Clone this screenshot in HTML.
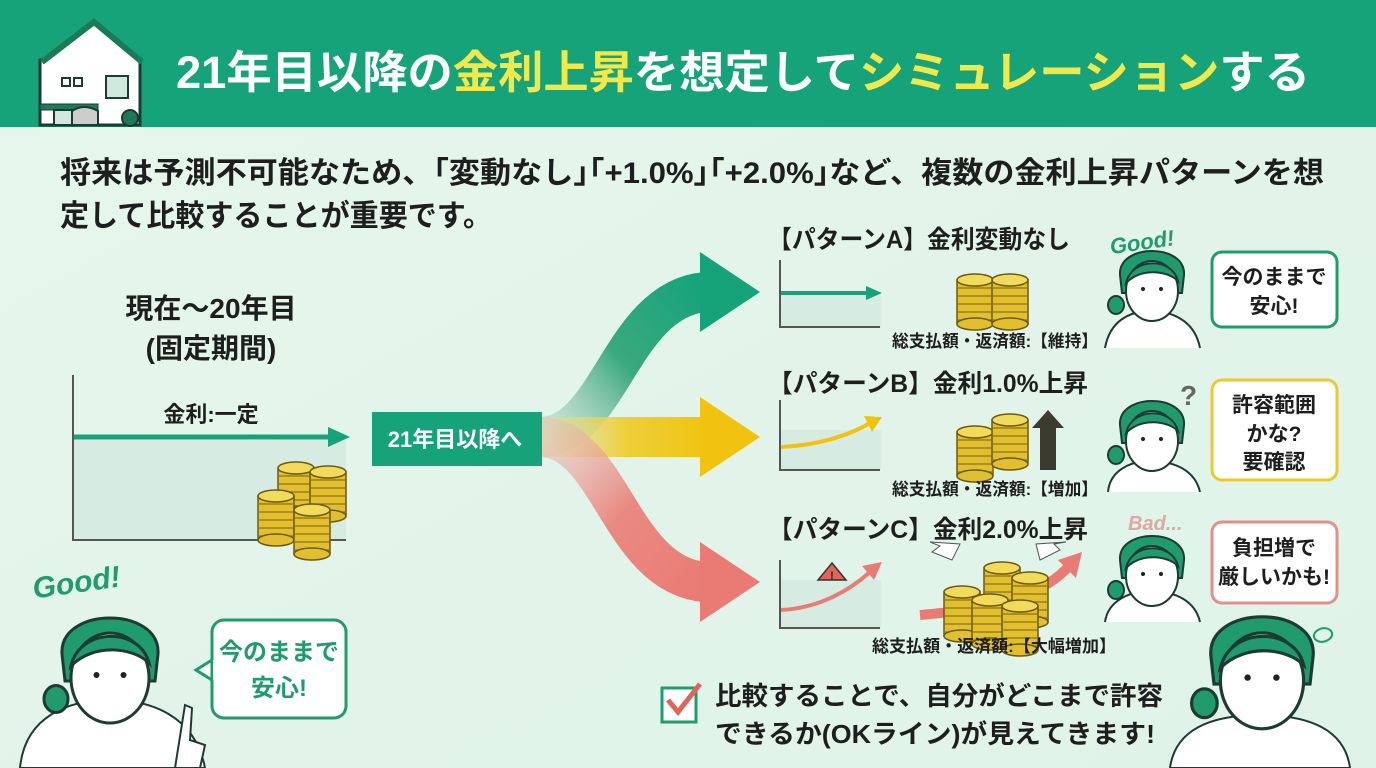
<!DOCTYPE html>
<html><head><meta charset="utf-8"><style>
body{margin:0;width:1376px;height:768px;overflow:hidden;background:#e4f5ea;font-family:"Liberation Sans","Noto Sans CJK JP",sans-serif;}
svg{display:block}
text{font-family:"Liberation Sans","Noto Sans CJK JP",sans-serif;font-weight:bold;}
</style></head><body>
<svg width="1376" height="768" viewBox="0 0 1376 768" xmlns="http://www.w3.org/2000/svg">
<defs>
<linearGradient id="bg" x1="0" y1="0" x2="1" y2="1"><stop offset="0" stop-color="#e6f6ec"/><stop offset="1" stop-color="#dff3e8"/></linearGradient>
<linearGradient id="gA" gradientUnits="userSpaceOnUse" x1="540" y1="437" x2="710" y2="292"><stop offset="0" stop-color="#b9d6c4" stop-opacity="0.4"/><stop offset="0.5" stop-color="#3aa97f"/><stop offset="1" stop-color="#16a37a"/></linearGradient>
<linearGradient id="gB" gradientUnits="userSpaceOnUse" x1="540" y1="0" x2="710" y2="0"><stop offset="0" stop-color="#e7e0a0" stop-opacity="0.4"/><stop offset="0.5" stop-color="#edcf3a"/><stop offset="1" stop-color="#f1c30f"/></linearGradient>
<linearGradient id="gC" gradientUnits="userSpaceOnUse" x1="540" y1="437" x2="710" y2="582"><stop offset="0" stop-color="#eab8b0" stop-opacity="0.4"/><stop offset="0.5" stop-color="#e98a82"/><stop offset="1" stop-color="#ea7b74"/></linearGradient>
<g id="stack">
<rect x="-18" y="0" width="36" height="44" fill="#e2bf2f" stroke="#6b5a10" stroke-width="1.5"/>
<path d="M-18 8h36M-18 16h36M-18 24h36M-18 32h36M-18 40h36" stroke="#8a7414" stroke-width="1.2"/>
<ellipse cx="0" cy="0" rx="18" ry="6" fill="#f2da5a" stroke="#6b5a10" stroke-width="1.5"/>
<ellipse cx="0" cy="44" rx="18" ry="6" fill="#e2bf2f" stroke="#6b5a10" stroke-width="1.5"/>
</g>
<g id="face">
<path d="M-32 -8 C-34 -40 34 -40 32 -8 L30 10 L-30 10 Z" fill="#1f9b6e" stroke="#1d3b33" stroke-width="2"/>
<ellipse cx="0" cy="8" rx="26" ry="30" fill="#fff" stroke="#1d3b33" stroke-width="2"/>
<path d="M-26 0 C-20 -26 20 -26 26 -2 C16 -12 -10 -16 -26 0Z" fill="#1f9b6e" stroke="#1d3b33" stroke-width="2"/>
<circle cx="-9" cy="6" r="2" fill="#222"/><circle cx="9" cy="6" r="2" fill="#222"/>
<ellipse cx="-36" cy="22" rx="8" ry="9" fill="#1f9b6e" stroke="#1d3b33" stroke-width="2"/>
</g>
</defs>
<rect width="1376" height="768" fill="url(#bg)"/>
<!-- header -->
<rect width="1376" height="127" fill="#16a37a"/>
<g stroke="#1d3b33" stroke-width="3">
<path d="M46 60 L94 22 L140 60 L140 125 L40 125 L40 60 Z" fill="#fff"/>
<path d="M42 62 L94 22 L142 62" fill="none" stroke="#1b7a58" stroke-width="6"/>
<rect x="62" y="78" width="8" height="8" fill="#fff" stroke-width="2"/><rect x="74" y="78" width="8" height="8" fill="#fff" stroke-width="2"/>
<rect x="106" y="76" width="22" height="22" fill="#cfe9df" stroke-width="2"/>
<rect x="40" y="104" width="58" height="6" fill="#1b7a58" stroke-width="1"/>
<rect x="54" y="110" width="18" height="15" fill="#cfe9df" stroke-width="2"/>
<path d="M72 125 v-14 q12 -8 26 0 v14z" fill="#ccc" stroke-width="2"/>
<circle cx="130" cy="118" r="8" fill="#1b7a58" stroke-width="2"/>
</g>
<text x="176" y="88" font-size="45" fill="#fff" textLength="1134" lengthAdjust="spacingAndGlyphs">21年目以降の<tspan fill="#f2e84a">金利上昇</tspan>を想定して<tspan fill="#f2e84a">シミュレーション</tspan>する</text>
<!-- intro -->
<text x="60" y="183" font-size="30" fill="#1e1e1e" textLength="1264" lengthAdjust="spacingAndGlyphs">将来は予測不可能なため、｢変動なし｣｢+1.0%｣｢+2.0%｣など、複数の金利上昇パターンを想</text>
<text x="60" y="226" font-size="30" fill="#1e1e1e" textLength="432" lengthAdjust="spacingAndGlyphs">定して比較することが重要です。</text>
<!-- left chart -->
<text x="211" y="318" font-size="28" fill="#1e1e1e" text-anchor="middle">現在〜20年目</text>
<text x="211" y="358" font-size="28" fill="#1e1e1e" text-anchor="middle">(固定期間)</text>
<rect x="74" y="440" width="272" height="100" fill="#d6ebe1"/>
<path d="M73 375 V540 H346" stroke="#555" stroke-width="2" fill="none"/>
<text x="211" y="422" font-size="22" fill="#1e1e1e" text-anchor="middle">金利:一定</text>
<path d="M74 437 H330" stroke="#16a37a" stroke-width="5"/><path d="M328 427 L350 437 L328 447Z" fill="#16a37a"/>
<use href="#stack" x="296" y="468"/><use href="#stack" x="328" y="472"/><use href="#stack" x="276" y="496"/><use href="#stack" x="312" y="510"/>
<!-- branches -->
<path d="M540 437 C610 437 620 300 705 292" stroke="url(#gA)" stroke-width="40" fill="none"/>
<path d="M700 252 L760 292 L700 332Z" fill="#16a37a"/>
<rect x="540" y="417" width="165" height="40" fill="url(#gB)"/>
<path d="M700 397 L760 437 L700 477Z" fill="#f1c30f"/>
<path d="M540 437 C610 437 620 575 705 582" stroke="url(#gC)" stroke-width="40" fill="none"/>
<path d="M700 542 L760 582 L700 622Z" fill="#ea7b74"/>
<rect x="372" y="412" width="170" height="54" fill="#16a37a"/>
<text x="455" y="447" font-size="22" fill="#fff" text-anchor="middle">21年目以降へ</text>
<!-- pattern A -->
<text x="768" y="248" font-size="25" fill="#1e1e1e" textLength="302" lengthAdjust="spacingAndGlyphs">【パターンA】金利変動なし</text>
<rect x="781" y="294" width="100" height="33" fill="#d6ebe1"/>
<path d="M780 260 V327 H880" stroke="#555" stroke-width="2" fill="none"/>
<path d="M781 293 H868" stroke="#16a37a" stroke-width="4"/><path d="M866 286 L882 293 L866 300Z" fill="#16a37a"/>
<use href="#stack" x="975" y="280"/><use href="#stack" x="1010" y="280"/>
<text x="892" y="347" font-size="17" fill="#1e1e1e" textLength="206" lengthAdjust="spacingAndGlyphs">総支払額・返済額:【維持】</text>
<text x="1110" y="250" font-size="22" fill="#1f9b6e" font-style="italic" font-weight="normal" transform="rotate(-8 1140 245)">Good!</text>
<path d="M1105 348 C1110 320 1130 312 1150 310 C1175 312 1195 322 1200 348" fill="#fff" stroke="#1d3b33" stroke-width="2"/>
<use href="#face" x="1152" y="283"/>
<rect x="1212" y="252" width="125" height="75" rx="10" fill="#fff" stroke="#1f9b6e" stroke-width="3"/>
<text x="1274" y="284" font-size="21" fill="#1e1e1e" text-anchor="middle">今のままで</text>
<text x="1274" y="313" font-size="21" fill="#1e1e1e" text-anchor="middle">安心!</text>
<!-- pattern B -->
<text x="768" y="392" font-size="25" fill="#1e1e1e" textLength="320" lengthAdjust="spacingAndGlyphs">【パターンB】金利1.0%上昇</text>
<rect x="781" y="430" width="100" height="40" fill="#d6ebe1"/>
<path d="M780 400 V470 H880" stroke="#555" stroke-width="2" fill="none"/>
<path d="M781 447 C820 445 850 435 872 422" stroke="#f1c30f" stroke-width="4" fill="none"/><path d="M864 416 L882 417 L872 432Z" fill="#f1c30f"/>
<use href="#stack" x="975" y="432"/><use href="#stack" x="1010" y="420"/>
<path d="M1040 470 V428 H1032 L1048 410 L1064 428 H1056 V470Z" fill="#3d3a30"/>
<text x="892" y="495" font-size="17" fill="#1e1e1e" textLength="206" lengthAdjust="spacingAndGlyphs">総支払額・返済額:【増加】</text>
<text x="1180" y="405" font-size="28" fill="#666">?</text>
<path d="M1108 492 C1110 470 1130 462 1150 460 C1175 462 1195 470 1200 492" fill="#fff" stroke="#1d3b33" stroke-width="2"/>
<use href="#face" x="1152" y="433"/>
<rect x="1212" y="380" width="125" height="100" rx="10" fill="#fff" stroke="#edc92a" stroke-width="3"/>
<text x="1274" y="412" font-size="21" fill="#1e1e1e" text-anchor="middle">許容範囲</text>
<text x="1274" y="441" font-size="21" fill="#1e1e1e" text-anchor="middle">かな?</text>
<text x="1274" y="469" font-size="21" fill="#1e1e1e" text-anchor="middle">要確認</text>
<!-- pattern C -->
<text x="768" y="538" font-size="25" fill="#1e1e1e" textLength="320" lengthAdjust="spacingAndGlyphs">【パターンC】金利2.0%上昇</text>
<rect x="781" y="580" width="100" height="48" fill="#d6ebe1"/>
<path d="M780 560 V628 H880" stroke="#555" stroke-width="2" fill="none"/>
<path d="M781 610 C820 608 850 590 870 572" stroke="#ea7b74" stroke-width="4" fill="none"/><path d="M862 566 L882 562 L874 580Z" fill="#ea7b74"/>
<path d="M832 563 L846 580 L818 580Z" fill="#e0645a" stroke="#333" stroke-width="1.5"/><text x="832" y="579" font-size="11" fill="#222" text-anchor="middle">!</text>
<path d="M920 615 C980 610 1040 600 1070 565" stroke="#ea7b74" stroke-width="10" fill="none"/>
<path d="M1058 560 L1082 552 L1076 578Z" fill="#ea7b74"/>
<path d="M952 560 l-20 -8 l8 -6 l-10 -4 l30 2z" fill="#fff" stroke="#555"/><path d="M1040 560 l20 -10 l-6 -6 l12 -2 l-30 2z" fill="#fff" stroke="#555"/>
<use href="#stack" x="1002" y="568"/><use href="#stack" x="1030" y="578"/><use href="#stack" x="962" y="592"/><use href="#stack" x="990" y="600"/><use href="#stack" x="1020" y="606"/>
<text x="872" y="652" font-size="17" fill="#1e1e1e" textLength="244" lengthAdjust="spacingAndGlyphs">総支払額・返済額:【大幅増加】</text>
<text x="1128" y="530" font-size="20" fill="#e0a8a0" font-style="italic" font-weight="normal">Bad...</text>
<path d="M1105 622 C1108 600 1130 592 1150 590 C1175 592 1195 600 1200 622" fill="#fff" stroke="#1d3b33" stroke-width="2"/>
<use href="#face" x="1152" y="568"/>
<rect x="1212" y="522" width="125" height="81" rx="10" fill="#fff" stroke="#e48f87" stroke-width="3"/>
<text x="1274" y="555" font-size="21" fill="#1e1e1e" text-anchor="middle">負担増で</text>
<text x="1274" y="584" font-size="21" fill="#1e1e1e" text-anchor="middle">厳しいかも!</text>
<!-- bottom left -->
<text x="32" y="592" font-size="30" fill="#1f9b6e" font-style="italic" font-weight="normal" transform="rotate(-8 80 580)">Good!</text>
<path d="M20 768 C25 715 70 700 110 700 C150 700 195 715 205 768Z" fill="#fff" stroke="#1d3b33" stroke-width="2"/>
<g transform="translate(110 666) scale(1.5)"><use href="#face"/></g>
<path d="M175 768 L185 705 L192 708 L190 740 L205 745 L200 768Z" fill="#fff" stroke="#1d3b33" stroke-width="2"/>
<rect x="212" y="620" width="134" height="98" rx="12" fill="#fff" stroke="#1f9b6e" stroke-width="3"/>
<path d="M212 660 L196 670 L212 680Z" fill="#fff" stroke="#1f9b6e" stroke-width="3"/><rect x="213" y="660" width="5" height="20" fill="#fff"/>
<text x="279" y="660" font-size="24" fill="#1f9b6e" text-anchor="middle">今のままで</text>
<text x="279" y="696" font-size="24" fill="#1f9b6e" text-anchor="middle">安心!</text>
<!-- bottom message -->
<rect x="662" y="688" width="34" height="34" fill="#fff" stroke="#1f9b6e" stroke-width="3"/>
<path d="M668 700 L678 712 L700 684" stroke="#e0645a" stroke-width="5" fill="none"/>
<text x="715" y="705" font-size="26" fill="#1e1e1e" textLength="448" lengthAdjust="spacingAndGlyphs">比較することで、自分がどこまで許容</text>
<text x="715" y="743" font-size="26" fill="#1e1e1e" textLength="440" lengthAdjust="spacingAndGlyphs">できるか(OKライン)が見えてきます!</text>
<!-- bottom right -->
<path d="M1170 768 C1175 730 1210 715 1260 715 C1310 715 1345 730 1350 768Z" fill="#fff" stroke="#1d3b33" stroke-width="2"/>
<g transform="translate(1262 668) scale(1.6)"><use href="#face"/></g>
<path d="M1318 630 c10 -6 20 4 10 10 c-10 6 -20 -4 -10 -10" stroke="#1f9b6e" stroke-width="2" fill="none"/>
</svg>
</body></html>
